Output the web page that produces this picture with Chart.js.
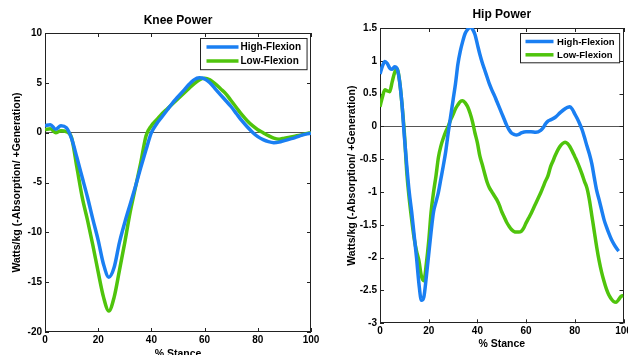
<!DOCTYPE html>
<html>
<head>
<meta charset="utf-8">
<script src="https://cdn.jsdelivr.net/npm/chart.js@4.4.0/dist/chart.umd.min.js"></script>
<style>
  html, body { margin: 0; padding: 0; background: #fff; overflow: hidden; }
  body { width: 628px; height: 355px; position: relative; }
  canvas { position: absolute; top: 0; }
  #grafJoelho { left: 0; }
  #grafQuadril { left: 320px; }
</style>
</head>
<body>
<canvas id="grafJoelho" width="320" height="365"></canvas>
<canvas id="grafQuadril" width="330" height="365"></canvas>
<script>
const series = ['High-Flexion', 'Low-Flexion'];
const cores = ['#1a7ff2', '#4fc40c'];

const xTicks = [0, 20, 40, 60, 80, 100];
const kneeYTicks = [-20, -15, -10, -5, 0, 5, 10];
const hipYTicks = [-3, -2.5, -2, -1.5, -1, -0.5, 0, 0.5, 1, 1.5];

// Knee Power (% stance a cada 2)
const kneeX = [0, 2, 4, 6, 8, 10, 12, 14, 16, 18, 20, 22, 24, 26, 28, 30, 32, 34, 36, 38, 40, 42, 44, 46, 48, 50,
  52, 54, 56, 58, 60, 62, 64, 66, 68, 70, 72, 74, 76, 78, 80, 82, 84, 86, 88, 90, 92, 94, 96, 98, 100];
const kneeHigh = [0.7, 0.8, 0.35, 0.7, 0.5, -0.6, -2.5, -4.5, -6.5, -8.7, -10.8, -13.2, -14.5, -13.5, -11.0, -9.0,
  -7.2, -5.4, -3.5, -1.7, 0.0, 0.9, 1.6, 2.3, 3.0, 3.6, 4.2, 4.8, 5.3, 5.5, 5.4, 5.0, 4.4, 3.8, 3.2, 2.6, 1.9, 1.2,
  0.6, 0.05, -0.4, -0.7, -0.9, -1.0, -0.95, -0.8, -0.65, -0.5, -0.3, -0.15, -0.05];
const kneeLow = [0.3, 0.4, 0.0, 0.2, 0.1, -0.5, -3.5, -6.5, -8.8, -11.3, -14.0, -16.5, -17.9, -16.5, -13.8, -11.0,
  -8.0, -5.5, -3.0, -0.3, 0.7, 1.3, 1.9, 2.4, 2.9, 3.4, 3.9, 4.4, 4.9, 5.3, 5.45, 5.3, 4.9, 4.4, 3.9, 3.2, 2.5, 1.8,
  1.2, 0.7, 0.3, 0.0, -0.3, -0.55, -0.65, -0.55, -0.45, -0.35, -0.25, -0.1, 0.0];

// Hip Power
const hipHighX = [0, 1, 2, 3, 4, 5, 6, 7, 8, 9, 10, 11, 12, 13, 14, 15, 16, 17, 18, 19, 20, 21, 22, 23, 24, 25, 26,
  27, 28, 29, 30, 31, 32, 33, 34, 35, 36, 37, 38, 39, 40, 41, 42, 43, 44, 45, 46, 47, 48, 49, 50, 51, 52, 53, 54,
  55, 56, 57, 58, 60, 62, 64, 66, 67, 68, 69, 70, 72, 74, 76, 77, 78, 79, 80, 81, 82, 83, 84, 85, 86, 87, 88, 89,
  90, 91, 92, 93, 94, 95, 96, 97, 98];
const hipHigh = [0.8, 0.92, 0.99, 0.96, 0.89, 0.87, 0.91, 0.88, 0.7, 0.35, -0.15, -0.6, -1.0, -1.3, -1.65, -2.0,
  -2.4, -2.65, -2.6, -2.3, -1.95, -1.6, -1.3, -1.15, -1.0, -0.8, -0.6, -0.38, -0.1, 0.15, 0.4, 0.65, 0.95, 1.15,
  1.3, 1.42, 1.48, 1.51, 1.48, 1.4, 1.25, 1.1, 0.97, 0.86, 0.75, 0.64, 0.55, 0.47, 0.38, 0.29, 0.2, 0.11, 0.02,
  -0.05, -0.1, -0.12, -0.13, -0.12, -0.1, -0.08, -0.08, -0.09, -0.06, -0.02, 0.04, 0.08, 0.1, 0.14, 0.21, 0.27,
  0.29, 0.3, 0.26, 0.19, 0.12, 0.04, -0.05, -0.17, -0.3, -0.42, -0.57, -0.78, -0.98, -1.12, -1.27, -1.42, -1.53,
  -1.63, -1.72, -1.79, -1.85, -1.9];
const hipLowX = [0, 1, 2, 3, 4, 5, 6, 7, 8, 9, 10, 11, 12, 13, 14, 15, 16, 17, 18, 19, 20, 21, 22, 23, 24, 25, 26,
  27, 28, 29, 30, 31, 32, 33, 34, 35, 36, 37, 38, 39, 40, 41, 42, 43, 44, 45, 46, 47, 48, 49, 50, 51, 52, 53, 54,
  55, 56, 57, 58, 59, 60, 61, 62, 63, 64, 65, 66, 67, 68, 69, 70, 71, 72, 73, 74, 75, 76, 77, 78, 79, 80, 81, 82,
  83, 84, 85, 86, 87, 88, 89, 90, 91, 92, 93, 94, 95, 96, 97, 98, 99, 100];
const hipLow = [0.3, 0.45, 0.56, 0.54, 0.53, 0.68, 0.82, 0.88, 0.7, 0.35, -0.1, -0.7, -1.1, -1.42, -1.7, -1.9,
  -2.05, -2.28, -2.35, -2.1, -1.75, -1.3, -1.0, -0.75, -0.47, -0.3, -0.18, -0.08, 0.0, 0.1, 0.18, 0.27, 0.33, 0.38,
  0.39, 0.36, 0.3, 0.2, 0.07, -0.1, -0.25, -0.45, -0.58, -0.72, -0.85, -0.94, -1.0, -1.06, -1.12, -1.2, -1.3,
  -1.38, -1.46, -1.52, -1.57, -1.6, -1.61, -1.61, -1.6, -1.55, -1.47, -1.4, -1.33, -1.25, -1.17, -1.09, -1.01,
  -0.92, -0.83, -0.75, -0.62, -0.53, -0.44, -0.36, -0.3, -0.26, -0.24, -0.26, -0.31, -0.38, -0.46, -0.54, -0.63,
  -0.73, -0.84, -0.94, -1.12, -1.36, -1.6, -1.84, -2.05, -2.22, -2.36, -2.48, -2.57, -2.63, -2.67, -2.68, -2.64,
  -2.59, -2.58];

Chart.defaults.font.family = '"Liberation Sans", Arial, sans-serif';
Chart.defaults.font.weight = 'bold';
Chart.defaults.color = '#000';

// caixa dos eixos + ticks para dentro (estilo MATLAB)
const moldura = {
  id: 'moldura',
  beforeDatasetsDraw(chart) {
    const { ctx, chartArea: a, scales: { x, y } } = chart;
    const len = 4;
    ctx.save();
    ctx.strokeStyle = '#222';
    ctx.lineWidth = 1;
    ctx.beginPath();
    x.ticks.forEach(t => {
      const px = Math.round(x.getPixelForValue(t.value)) + 0.5;
      ctx.moveTo(px, a.bottom); ctx.lineTo(px, a.bottom - len);
      ctx.moveTo(px, a.top); ctx.lineTo(px, a.top + len);
    });
    y.ticks.forEach(t => {
      const py = Math.round(y.getPixelForValue(t.value)) + 0.5;
      ctx.moveTo(a.left, py); ctx.lineTo(a.left + len, py);
      ctx.moveTo(a.right, py); ctx.lineTo(a.right - len, py);
    });
    ctx.stroke();
    ctx.strokeRect(Math.round(a.left) + 0.5, Math.round(a.top) + 0.5,
      Math.round(a.right - a.left) - 1, Math.round(a.bottom - a.top) - 1);
    ctx.restore();
  }
};

// legenda dentro do gráfico, canto superior direito
const legenda = {
  id: 'legenda',
  afterDraw(chart, args, opts) {
    const { ctx, chartArea: a } = chart;
    const sets = chart.data.datasets;
    ctx.save();
    ctx.font = `bold ${opts.size}px "Liberation Sans", Arial, sans-serif`;
    const textW = Math.max(...sets.map(d => ctx.measureText(d.label).width));
    const w = opts.pad + opts.line + opts.gap + textW + opts.pad;
    const h = opts.padTop * 2 + opts.rowH * sets.length;
    const left = Math.round(a.right - opts.right - w) + 0.5;
    const top = Math.round(a.top + opts.top) + 0.5;
    ctx.fillStyle = '#fff';
    ctx.fillRect(left, top, w, h);
    ctx.strokeStyle = '#222';
    ctx.lineWidth = 1;
    ctx.strokeRect(left, top, w, h);
    sets.forEach((d, i) => {
      const cy = top + opts.padTop + opts.rowH * i + opts.rowH / 2;
      ctx.strokeStyle = d.borderColor;
      ctx.lineWidth = 3.5;
      ctx.beginPath();
      ctx.moveTo(left + opts.pad, cy);
      ctx.lineTo(left + opts.pad + opts.line, cy);
      ctx.stroke();
      ctx.fillStyle = '#000';
      ctx.textBaseline = 'middle';
      ctx.fillText(d.label, left + opts.pad + opts.line + opts.gap, cy + 0.5);
    });
    ctx.restore();
  }
};

function pontos(xs, ys) {
  return xs.map((x, i) => ({ x: x, y: ys[i] }));
}

function montarGrafico(id, cfg) {
  const fixa = (arr) => (scale) => { scale.ticks = arr.map(v => ({ value: v })); };
  new Chart(document.getElementById(id), {
    type: 'line',
    data: {
      datasets: cfg.dados.map((d, i) => ({
        label: series[i],
        data: d,
        borderColor: cores[i],
        borderWidth: 3.5,
        pointRadius: 0,
        fill: false,
        cubicInterpolationMode: 'monotone'
      }))
    },
    options: {
      responsive: false,
      animation: false,
      layout: { padding: cfg.padding },
      plugins: {
        legend: { display: false },
        tooltip: { enabled: false },
        title: {
          display: true,
          text: cfg.titulo,
          fullSize: false,
          color: '#000',
          font: { size: 12, weight: 'bold' },
          padding: cfg.tituloPad
        },
        legenda: cfg.legenda
      },
      scales: {
        x: {
          type: 'linear',
          min: 0, max: 100,
          afterBuildTicks: fixa(xTicks),
          afterFit: (s) => { s.height = cfg.xAltura; s.paddingLeft = 0; s.paddingRight = 0; },
          ticks: { padding: 2, font: { size: 10 }, callback: v => String(v), maxRotation: 0, autoSkip: false },
          grid: { display: false, drawTicks: false },
          border: { display: false },
          title: { display: true, text: '% Stance', font: { size: 10.5, weight: 'bold' }, padding: { top: 0, bottom: cfg.xTituloPad } }
        },
        y: {
          type: 'linear',
          min: cfg.yTicks[0], max: cfg.yTicks[cfg.yTicks.length - 1],
          afterBuildTicks: fixa(cfg.yTicks),
          afterFit: (s) => { s.width = cfg.yLargura; s.paddingTop = 0; s.paddingBottom = 0; },
          ticks: { padding: 3, font: { size: 10 }, callback: v => String(v), autoSkip: false },
          grid: {
            drawTicks: false,
            color: c => (c.tick && c.tick.value === 0) ? '#555' : 'rgba(0,0,0,0)'
          },
          border: { display: false },
          title: {
            display: true,
            text: 'Watts/kg (-Absorption/ +Generation)',
            font: { size: 10.5, weight: 'bold' },
            padding: { top: cfg.yTituloPad, bottom: 0 }
          }
        }
      }
    },
    plugins: [moldura, legenda]
  });
}

montarGrafico('grafJoelho', {
  titulo: 'Knee Power',
  dados: [pontos(kneeX, kneeHigh), pontos(kneeX, kneeLow)],
  yTicks: kneeYTicks,
  padding: { left: 0, right: 9, top: 0, bottom: 0 },
  tituloPad: { top: 13.3, bottom: 5.3 },
  yLargura: 45,
  yTituloPad: 10.9,
  xAltura: 33,
  xTituloPad: 5,
  legenda: { size: 10, pad: 6, line: 32, gap: 2, padTop: 1.6, rowH: 14, right: 4, top: 4.7 }
});

montarGrafico('grafQuadril', {
  titulo: 'Hip Power',
  dados: [pontos(hipHighX, hipHigh), pontos(hipLowX, hipLow)],
  yTicks: hipYTicks,
  padding: { left: 20, right: 26.5, top: 0, bottom: 0 },
  tituloPad: { top: 7.8, bottom: 5.8 },
  yLargura: 40,
  yTituloPad: 5.9,
  xAltura: 41.7,
  xTituloPad: 15,
  legenda: { size: 9.5, pad: 5, line: 28, gap: 3.6, padTop: 1.35, rowH: 13.3, right: 4, top: 4.7 }
});
</script>
</body>
</html>
